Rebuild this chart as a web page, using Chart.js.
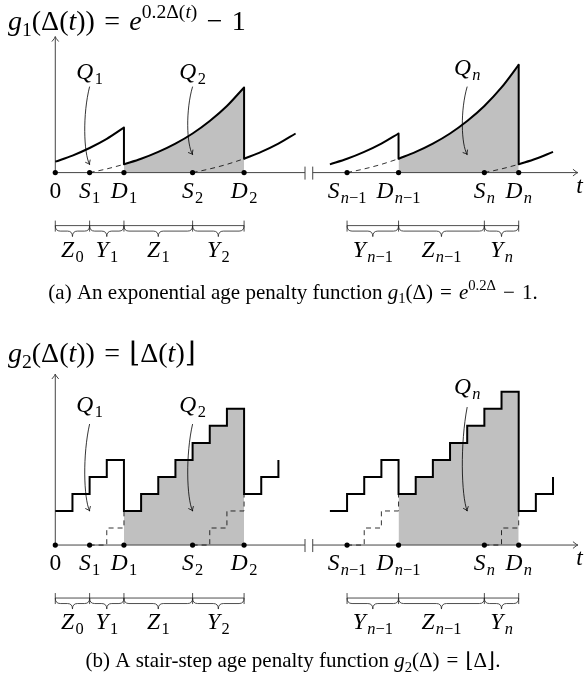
<!DOCTYPE html>
<html>
<head>
<meta charset="utf-8">
<script src="https://cdn.jsdelivr.net/npm/chart.js@4.4.1/dist/chart.umd.min.js"></script>
<style>
  html, body { margin: 0; padding: 0; background: #fff; }
  body { width: 587px; height: 687px; position: relative; overflow: hidden; }
  canvas { position: absolute; left: 0; }
  #chartA { top: 0; }
  #chartB { top: 315px; }
</style>
</head>
<body>
<canvas id="chartA" width="587" height="315"></canvas>
<canvas id="chartB" width="587" height="372"></canvas>
<script>
// update times on the t axis: 0, S1, D1, S2, D2, S_{n-1}, D_{n-1}, S_n, D_n
const updateTimes = [0, 2, 4, 8, 11, 17, 20, 25, 27];
const timeLabels = ['0', 'S_1', 'D_1', 'S_2', 'D_2', 'S_n-1', 'D_n-1', 'S_n', 'D_n'];
const braceLeftEdges = [0, 2, 4, 8, 11];
const braceLeftLabels = ['Z_0', 'Y_1', 'Z_1', 'Y_2'];
const braceRightEdges = [17, 20, 25, 27];
const braceRightLabels = ['Y_n-1', 'Z_n-1', 'Y_n'];
const qLabels = ['Q_1', 'Q_2', 'Q_n'];
const qTimes = [2, 8, 24];
const shadedIntervals = [[4, 11], [20, 27]];

// (a) exponential penalty, values read every time unit
const expStarts = [0, 4, 11, 16, 20, 27];
const expSeg0 = [0.65, 1.01, 1.46, 2.00, 2.67];
const expSeg1 = [0.49, 0.82, 1.23, 1.72, 2.32, 3.06, 3.95, 5.05];
const expSeg2 = [0.82, 1.23, 1.72, 2.32];
const expSeg3 = [0.49, 0.82, 1.23, 1.72, 2.32];
const expSeg4 = [0.82, 1.23, 1.72, 2.32, 3.06, 3.95, 5.05, 6.39];
const expSeg5 = [0.49, 0.82, 1.23];
const expSegs = [expSeg0, expSeg1, expSeg2, expSeg3, expSeg4, expSeg5];
const expDashStarts = [2, 8, 17, 25];
const expDashes = [[0, 0.22, 0.49], [0, 0.22, 0.49, 0.82], [0, 0.22, 0.49, 0.82], [0, 0.22, 0.49]];

// (b) stair-step penalty, level on each unit interval
const stairStarts = [0, 16];
const stairLeft = [2, 3, 4, 5, 2, 3, 4, 5, 6, 7, 8, 3, 4, 5];
const stairRight = [2, 3, 4, 5, 3, 4, 5, 6, 7, 8, 9, 2, 3, 4];
const stairSeries = [stairLeft, stairRight];
const stairDashStarts = [2, 8, 17, 25];
const stairDashes = [[0, 1, 2], [0, 1, 2, 3], [0, 1, 2, 3], [0, 1, 2]];

const ORIGIN_X = 52, UNIT_X = 17.4;
const SHADE = '#c0c0c0', AXIS = '#444';
const SERIF = '"Liberation Serif", "DejaVu Serif", serif';
const LABEL_SIZE = 23.5;
const GAP = '\u2004';   // wider math spacing around = and minus

function mathParts(s) {
    const [base, sub] = s.split('_');
    const parts = [];
    for (const ch of base) parts.push([ch, /[A-Za-z]/.test(ch) ? 'i' : 'r']);
    if (sub) {
        parts.push(['\u200A', 'sr']);
        for (const ch of sub) parts.push([ch === '-' ? '\u2212' : ch, /[A-Za-z]/.test(ch) ? 'si' : 'sr']);
    }
    return parts;
}

function partFont(style, size) {
    const small = style.length === 2;
    const it = style.endsWith('i');
    return (it ? 'italic ' : '') + (small ? size * 0.7 : size) + 'px ' + SERIF;
}

function drawRich(ctx, parts, x, y, size, align) {
    let w = 0;
    const widths = parts.map(([t, st]) => {
        ctx.font = partFont(st, size);
        const m = ctx.measureText(t).width;
        w += m;
        return m;
    });
    let cx = align === 'center' ? x - w / 2 : x;
    ctx.textAlign = 'left';
    ctx.textBaseline = 'alphabetic';
    ctx.fillStyle = '#000';
    parts.forEach(([t, st], i) => {
        ctx.font = partFont(st, size);
        let dy = 0;
        if (st === 'si' || st === 'sr') dy = size * 0.22;
        if (st === 'pi' || st === 'pr') dy = -size * 0.42;
        ctx.fillText(t, cx, y + dy);
        cx += widths[i];
    });
}

function line(ctx, x1, y1, x2, y2) {
    ctx.beginPath();
    ctx.moveTo(x1, y1);
    ctx.lineTo(x2, y2);
    ctx.stroke();
}

function arrowHead(ctx, x, y, ang, len) {
    ctx.beginPath();
    ctx.moveTo(x - len * Math.cos(ang - 0.6), y - len * Math.sin(ang - 0.6));
    ctx.quadraticCurveTo(x - Math.cos(ang), y - Math.sin(ang), x, y);
    ctx.quadraticCurveTo(x - Math.cos(ang), y - Math.sin(ang), x - len * Math.cos(ang + 0.6), y - len * Math.sin(ang + 0.6));
    ctx.stroke();
}

function brace(ctx, x0, x1, y, h) {
    const mid = (x0 + x1) / 2, r = Math.min(5, (x1 - x0) / 4);
    ctx.beginPath();
    ctx.moveTo(x0, y);
    ctx.quadraticCurveTo(x0, y + h / 2, x0 + r, y + h / 2);
    ctx.lineTo(mid - r, y + h / 2);
    ctx.quadraticCurveTo(mid, y + h / 2, mid, y + h);
    ctx.quadraticCurveTo(mid, y + h / 2, mid + r, y + h / 2);
    ctx.lineTo(x1 - r, y + h / 2);
    ctx.quadraticCurveTo(x1, y + h / 2, x1, y);
    ctx.stroke();
}

function diagramPlugin(cfg) {
    return {
        id: 'diagram',
        beforeDatasetsDraw(chart) {
            const ctx = chart.ctx, xs = chart.scales.x, ys = chart.scales.y;
            const X = t => xs.getPixelForValue(t);
            const y0 = ys.getPixelForValue(0);
            ctx.save();
            ctx.strokeStyle = AXIS;
            ctx.lineWidth = 1;
            line(ctx, X(0), y0, X(0), y0 - cfg.axisTop);
            arrowHead(ctx, X(0), y0 - cfg.axisTop, -Math.PI / 2, 6);
            line(ctx, X(0), y0, X(cfg.axisBreak[0]), y0);
            line(ctx, X(cfg.axisBreak[1]), y0, X(cfg.axisEnd), y0);
            arrowHead(ctx, X(cfg.axisEnd), y0, 0, 6);
            cfg.axisBreak.forEach(t => line(ctx, X(t), y0 - 6, X(t), y0 + 7));
            ctx.restore();
        },
        afterDatasetsDraw(chart) {
            const ctx = chart.ctx, xs = chart.scales.x, ys = chart.scales.y;
            const X = t => xs.getPixelForValue(t);
            const y0 = ys.getPixelForValue(0);
            ctx.save();

            // time labels under the axis
            updateTimes.forEach((t, i) => drawRich(ctx, mathParts(timeLabels[i]), X(t), y0 + 25, LABEL_SIZE, 'center'));
            drawRich(ctx, [['t', 'i']], X(cfg.tLabel), y0 + 20, LABEL_SIZE, 'center');

            // interval braces
            ctx.strokeStyle = '#222';
            ctx.lineWidth = 0.8;
            const by = y0 + 53;
            [[braceLeftEdges, braceLeftLabels], [braceRightEdges, braceRightLabels]].forEach(([edges, labels]) => {
                line(ctx, X(edges[0]), by, X(edges[edges.length - 1]), by);
                edges.forEach(t => line(ctx, X(t), by - 5, X(t), by + 6));
                for (let i = 0; i < labels.length; i++) {
                    brace(ctx, X(edges[i]), X(edges[i + 1]), by, 11);
                    drawRich(ctx, mathParts(labels[i]), (X(edges[i]) + X(edges[i + 1])) / 2, y0 + 84, LABEL_SIZE, 'center');
                }
            });

            // Q labels with curved arrows
            ctx.strokeStyle = '#000';
            ctx.lineWidth = 0.8;
            qTimes.forEach((t, i) => {
                const x = X(t);
                drawRich(ctx, mathParts(qLabels[i]), x, y0 + cfg.qLabelY[i], LABEL_SIZE, 'center');
                const yt = y0 + cfg.qArrowTop[i], yb = y0 + cfg.qArrowBottom[i];
                const L = yb - yt;
                ctx.beginPath();
                ctx.moveTo(x, yt);
                ctx.bezierCurveTo(x - 7, yt + L * 0.35, x - 6, yt + L * 0.85, x, yb);
                ctx.stroke();
                arrowHead(ctx, x, yb, Math.atan2(L * 0.15, 6), 5);
            });

            // formula on top and caption underneath
            drawRich(ctx, cfg.title, 8, y0 + cfg.titleY, 28, 'left');
            drawRich(ctx, cfg.caption, 293, y0 + cfg.captionY, 21, 'center');
            ctx.restore();
        }
    };
}

function buildChart(id, datasets, originY, unitY, cfg) {
    const canvas = document.getElementById(id);
    const W = canvas.width, H = canvas.height;
    return new Chart(canvas, {
        type: 'line',
        data: { datasets },
        options: {
            responsive: false,
            animation: false,
            events: [],
            layout: { padding: 0 },
            plugins: {
                legend: { display: false },
                tooltip: { enabled: false },
                filler: { drawTime: 'beforeDatasetsDraw' }
            },
            scales: {
                x: { type: 'linear', display: false, min: -ORIGIN_X / UNIT_X, max: (W - ORIGIN_X) / UNIT_X },
                y: { type: 'linear', display: false, min: -(H - originY) / unitY, max: originY / unitY }
            },
            elements: {
                point: { radius: 0 },
                line: { borderColor: '#000', borderWidth: 2, fill: false, borderCapStyle: 'butt' }
            }
        },
        plugins: [diagramPlugin(cfg)]
    });
}

const dotSet = {
    data: updateTimes.map(t => ({ x: t, y: 0 })),
    showLine: false,
    pointRadius: 2.6,
    pointBackgroundColor: '#000',
    pointBorderWidth: 0
};

// ---- (a) exponential ----
const setsA = [dotSet];
expSegs.forEach((vals, k) => {
    const t0 = expStarts[k];
    setsA.push({
        data: vals.map((g, i) => ({ x: t0 + i, y: g })),
        cubicInterpolationMode: 'monotone',
        fill: shadedIntervals.some(iv => iv[0] === t0) ? 'origin' : false,
        backgroundColor: SHADE
    });
    const next = expSegs[k + 1];
    const tEnd = t0 + vals.length - 1;
    if (next && expStarts[k + 1] === tEnd) {
        setsA.push({
            data: [{ x: tEnd, y: vals[vals.length - 1] }, { x: tEnd, y: next[0] }],
            borderCapStyle: 'round'
        });
    }
});
expDashes.forEach((vals, k) => {
    setsA.push({
        data: vals.map((g, i) => ({ x: expDashStarts[k] + i, y: g })),
        cubicInterpolationMode: 'monotone',
        borderWidth: 0.8,
        borderDash: [5, 4]
    });
});

buildChart('chartA', setsA, 173, 17.3, {
    axisTop: 136,
    axisBreak: [14.55, 15.0],
    axisEnd: 30.45,
    tLabel: 30.55,
    qLabelY: [-94, -94, -98],
    qArrowTop: [-86, -86, -86],
    qArrowBottom: [-8, -18, -18],
    titleY: -143,
    captionY: 126,
    title: [['g', 'i'], ['1', 'sr'], ['(\u0394(', 'r'], ['t', 'i'], ['))', 'r'], [GAP + '=' + GAP, 'r'], ['e', 'i'],
            ['0.2\u0394(', 'pr'], ['t', 'pi'], [')', 'pr'], [GAP + '\u2212' + GAP + '1', 'r']],
    caption: [['(a) An exponential age penalty function ', 'r'], ['g', 'i'], ['1', 'sr'], ['(\u0394)' + GAP + '=' + GAP, 'r'],
              ['e', 'i'], ['0.2\u0394', 'pr'], [GAP + '\u2212' + GAP + '1.', 'r']]
});

// ---- (b) stair-step ----
const setsB = [dotSet];
stairSeries.forEach((vals, k) => {
    setsB.push({
        data: vals.map((g, i) => ({ x: stairStarts[k] + i, y: g })),
        stepped: 'before'
    });
});
stairDashes.forEach((vals, k) => {
    setsB.push({
        data: vals.map((g, i) => ({ x: stairDashStarts[k] + i, y: g })),
        stepped: 'before',
        borderWidth: 0.8,
        borderDash: [5, 4]
    });
});
function stairLevel(t) {
    for (let k = 0; k < stairSeries.length; k++) {
        const i = t - stairStarts[k];
        if (i >= 0 && i < stairSeries[k].length) return stairSeries[k][i];
    }
    return 0;
}
shadedIntervals.forEach(([a, b]) => {
    const pts = [];
    for (let t = a; t < b; t++) pts.push({ x: t, y: stairLevel(t) });
    pts.push({ x: b, y: stairLevel(b - 1) });
    setsB.push({ data: pts, stepped: 'before', borderWidth: 0, fill: 'origin', backgroundColor: SHADE });
});

buildChart('chartB', setsB, 231, 17.4, {
    axisTop: 171,
    axisBreak: [14.55, 15.0],
    axisEnd: 30.45,
    tLabel: 30.55,
    qLabelY: [-133, -133, -151],
    qArrowTop: [-121, -121, -138],
    qArrowBottom: [-34, -34, -34],
    titleY: -183,
    captionY: 122,
    title: [['g', 'i'], ['2', 'sr'], ['(\u0394(', 'r'], ['t', 'i'], ['))' + GAP + '=' + GAP + '\u230A\u0394(', 'r'], ['t', 'i'], [')\u230B', 'r']],
    caption: [['(b) A stair-step age penalty function ', 'r'], ['g', 'i'], ['2', 'sr'], ['(\u0394)' + GAP + '=' + GAP + '\u230A\u0394\u230B.', 'r']]
});
</script>
</body>
</html>
